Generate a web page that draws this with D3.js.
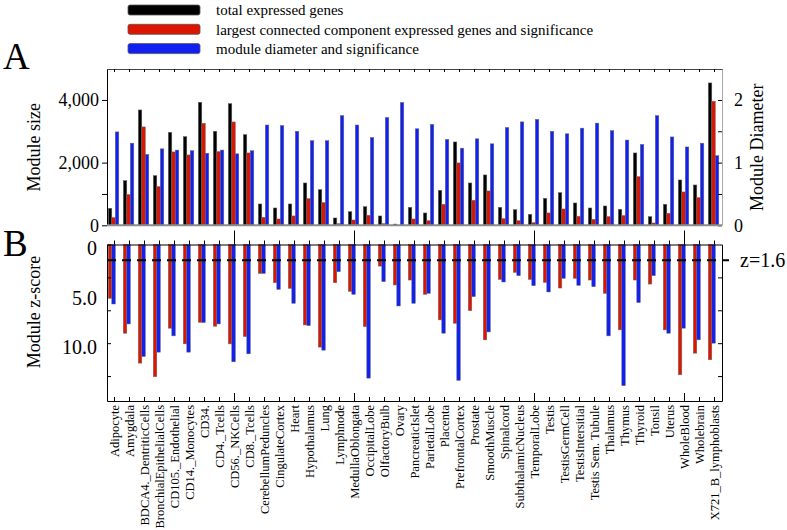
<!DOCTYPE html>
<html>
<head>
<meta charset="utf-8">
<script src="https://cdn.jsdelivr.net/npm/d3@7"></script>
<style>
  body { margin: 0; background: #fff; }
  text { font-family: 'Liberation Serif', 'Times New Roman', serif; fill: #000; }
</style>
</head>
<body>
<div id="chart"></div>
<script>
// tissues, in the order they appear on the x axis
let categories = ['Adipocyte', 'Amygdala', 'BDCA4._DentriticCells', 'BronchialEpithelialCells',
  'CD105._Endothelial', 'CD14._Monocytes', 'CD34.', 'CD4._Tcells', 'CD56._NKCells', 'CD8._Tcells',
  'CerebellumPeduncles', 'CingulateCortex', 'Heart', 'Hypothalamus', 'Lung', 'Lymphnode',
  'MedullaOblongata', 'OccipitalLobe', 'OlfactoryBulb', 'Ovary', 'PancreaticIslet', 'ParietalLobe',
  'Placenta', 'PrefrontalCortex', 'Prostate', 'SmoothMuscle', 'Spinalcord', 'SubthalamicNucleus',
  'TemporalLobe', 'Testis', 'TestisGermCell', 'TestisIntersitial', 'Testis Sem. Tubule', 'Thalamus',
  'Thymus', 'Thyroid', 'Tonsil', 'Uterus', 'WholeBlood', 'Wholebrain', 'X721_B_lymphoblasts']

// panel A
let totalGenes = [543, 1426, 3681, 1585, 2968, 2830, 3926, 3000, 3883, 2894, 681, 553, 681, 1351, 1138,
  234, 436, 596, 298, 40, 575, 394, 1117, 2660, 1351, 1607, 575, 500, 351, 862, 1043, 713, 553, 617,
  511, 2309, 277, 670, 1447, 1287, 4543]
let lccGenes = [245, 979, 3139, 1234, 2341, 2245, 3256, 2351, 3298, 2309, 255, 202, 298, 851, 724,
  53, 170, 319, 53, 0, 202, 149, 670, 1990, 798, 1096, 213, 149, 85, 394, 521, 287, 192, 277,
  309, 1553, 74, 383, 1064, 883, 3958]
let moduleDiameter = [1.49, 1.31, 1.13, 1.22, 1.20, 1.19, 1.15, 1.20, 1.14, 1.19, 1.60, 1.59, 1.50,
  1.35, 1.35, 1.75, 1.60, 1.40, 1.72, 1.96, 1.54, 1.61, 1.37, 1.23, 1.38, 1.30, 1.56, 1.65, 1.69,
  1.50, 1.46, 1.55, 1.63, 1.51, 1.36, 1.29, 1.75, 1.41, 1.25, 1.31, 1.11]

// panel B (z-scores, drawn downwards)
let lccZ = [5.45, 8.99, 12.02, 13.40, 8.48, 10.07, 7.88, 8.28, 10.07, 9.33, 2.93, 3.87, 4.44, 8.15,
  10.40, 3.87, 4.75, 8.32, 2.19, 4.10, 3.60, 5.05, 7.64, 7.98, 6.70, 9.66, 3.54, 2.83, 3.54, 3.84,
  4.41, 3.43, 3.60, 4.95, 8.65, 3.60, 4.01, 8.65, 13.20, 11.01, 11.68]
let diameterZ = [6.03, 8.05, 11.35, 10.91, 9.26, 10.91, 7.91, 8.05, 11.89, 11.08, 2.93, 4.55, 5.96,
  8.22, 10.71, 2.76, 5.05, 13.54, 3.77, 6.23, 5.96, 4.95, 8.99, 13.77, 5.29, 8.86, 3.80, 3.16, 4.18,
  4.81, 3.43, 4.14, 4.28, 9.26, 14.31, 5.89, 3.16, 8.99, 8.48, 9.66, 10.00]

let zThreshold = 1.6

let legendLabels = ['total expressed genes',
  'largest connected component expressed genes and significance',
  'module diameter and significance']

let majorTicks = ['CD56._NKCells', 'MedullaOblongata', 'TemporalLobe', 'WholeBlood']

let black = '#000000'
let red = '#dd1500'
let blue = '#1020f2'

let width = 787
let height = 530

let svg = d3
  .select('#chart')
  .append('svg')
  .attr('width', width)
  .attr('height', height)

let xPositionScale = d3.scaleBand().domain(categories).range([107, 722])

// bars inside one group
let innerA = d3.scaleBand().domain(['total', 'lcc', 'diam']).range([1.3, 11.8])
let innerB = d3.scaleBand().domain(['lcc', 'diam']).range([1.3, 8.3])

let yA = d3.scaleLinear().domain([0, 5000]).range([225.3, 68.6])
let yDiameter = d3.scaleLinear().domain([0, 2.5]).range([225.3, 68.6])
let yZ = d3.scaleLinear().domain([0, 15.86]).range([244.5, 401])

let rows = categories.map((c, i) => ({
  name: c,
  total: totalGenes[i],
  lcc: lccGenes[i],
  diam: moduleDiameter[i],
  lccZ: lccZ[i],
  diamZ: diameterZ[i]
}))

// ---------- legend ----------
let legend = svg.append('g')
legendLabels.forEach((label, i) => {
  legend.append('rect')
    .attr('x', 128).attr('y', 5 + i * 19.3)
    .attr('width', 72).attr('height', 10)
    .attr('rx', 2)
    .attr('fill', [black, red, blue][i])
    .attr('stroke', '#555').attr('stroke-width', 0.8)
  legend.append('text')
    .attr('x', 216).attr('y', 10 + i * 19.3)
    .attr('dy', '0.35em')
    .attr('font-size', 15)
    .text(label)
})

svg.append('text').attr('x', 3).attr('y', 69).attr('font-size', 37).text('A')
svg.append('text').attr('x', 3).attr('y', 256).attr('font-size', 37).text('B')

// ---------- panel A ----------
let panelA = svg.append('g')

let barStroke = g => g.attr('stroke', '#6a6a6a').attr('stroke-width', 0.5)

panelA.selectAll('.total')
  .data(rows)
  .enter()
  .append('rect')
  .attr('class', 'total')
  .attr('x', d => xPositionScale(d.name) + innerA('total'))
  .attr('width', innerA.bandwidth())
  .attr('y', d => yA(d.total))
  .attr('height', d => yA(0) - yA(d.total))
  .attr('fill', black)
  .call(barStroke)

panelA.selectAll('.lcc')
  .data(rows)
  .enter()
  .append('rect')
  .attr('class', 'lcc')
  .attr('x', d => xPositionScale(d.name) + innerA('lcc'))
  .attr('width', innerA.bandwidth())
  .attr('y', d => yA(d.lcc))
  .attr('height', d => yA(0) - yA(d.lcc))
  .attr('fill', red)
  .call(barStroke)

panelA.selectAll('.diam')
  .data(rows)
  .enter()
  .append('rect')
  .attr('class', 'diam')
  .attr('x', d => xPositionScale(d.name) + innerA('diam'))
  .attr('width', innerA.bandwidth())
  .attr('y', d => yDiameter(d.diam))
  .attr('height', d => yDiameter(0) - yDiameter(d.diam))
  .attr('fill', blue)
  .call(barStroke)

// left axis
let leftA = panelA.append('g')
  .attr('transform', 'translate(107,0)')
  .call(d3.axisLeft(yA)
    .tickValues([0, 1000, 2000, 4000])
    .tickFormat(d => (d === 1000 ? '' : d3.format(',')(d)))
    .tickSize(5)
    .tickSizeOuter(0)
    .tickPadding(3))
leftA.selectAll('text').attr('font-size', 18).attr('font-family', 'Liberation Serif')

// right axis (module diameter)
let rightA = panelA.append('g')
  .attr('transform', 'translate(722,0)')
  .call(d3.axisRight(yDiameter)
    .tickValues([0, 0.5, 1, 1.5, 2])
    .tickFormat(d => (d % 1 === 0 ? d : ''))
    .tickSize(-4)
    .tickSizeOuter(0)
    .tickPadding(12))
rightA.select('.domain').attr('stroke', '#aaa')
rightA.selectAll('text').attr('font-size', 18).attr('font-family', 'Liberation Serif')

// top frame with small ticks
let topA = panelA.append('g')
  .attr('transform', 'translate(0,69)')
  .call(d3.axisTop(xPositionScale).tickSize(-3).tickSizeOuter(0).tickFormat(''))
topA.select('.domain').attr('stroke', '#444')

// grey baseline
panelA.append('line')
  .attr('x1', 107).attr('x2', 722)
  .attr('y1', yA(0)).attr('y2', yA(0))
  .attr('stroke', '#8c8c8c').attr('stroke-width', 2)

svg.append('text')
  .attr('transform', `translate(40,${(yA(0) + 69) / 2}) rotate(-90)`)
  .attr('text-anchor', 'middle')
  .attr('font-size', 18)
  .text('Module size')

svg.append('text')
  .attr('transform', `translate(757,${(yA(0) + 69) / 2}) rotate(-90)`)
  .attr('text-anchor', 'middle')
  .attr('dy', '0.35em')
  .attr('font-size', 18)
  .text('Module Diameter')

// ---------- panel B ----------
let panelB = svg.append('g')

panelB.selectAll('.lccZ')
  .data(rows)
  .enter()
  .append('rect')
  .attr('class', 'lccZ')
  .attr('x', d => xPositionScale(d.name) + innerB('lcc'))
  .attr('width', innerB.bandwidth())
  .attr('y', yZ(0))
  .attr('height', d => yZ(d.lccZ) - yZ(0))
  .attr('fill', red)
  .call(barStroke)

panelB.selectAll('.diamZ')
  .data(rows)
  .enter()
  .append('rect')
  .attr('class', 'diamZ')
  .attr('x', d => xPositionScale(d.name) + innerB('diam'))
  .attr('width', innerB.bandwidth())
  .attr('y', yZ(0))
  .attr('height', d => yZ(d.diamZ) - yZ(0))
  .attr('fill', blue)
  .call(barStroke)

let zTicks = [0, 10 / 3, 20 / 3, 10, 40 / 3]

// left axis: ticks inside, labels on their own
panelB.append('g')
  .attr('transform', 'translate(107,0)')
  .call(d3.axisLeft(yZ).tickValues(zTicks).tickSize(-4).tickSizeOuter(0).tickFormat(''))

let zLabels = panelB.append('g')
  .attr('transform', 'translate(107,4)')
  .call(d3.axisLeft(yZ).tickValues([0, 5, 10]).tickSize(0).tickPadding(10)
    .tickFormat(d => (d === 0 ? '0' : d3.format('.1f')(d))))
zLabels.select('.domain').remove()
zLabels.selectAll('text').attr('font-size', 20).attr('font-family', 'Liberation Serif')

panelB.append('g')
  .attr('transform', 'translate(722,0)')
  .call(d3.axisRight(yZ).tickValues(zTicks.slice(1)).tickSize(-4).tickSizeOuter(0).tickFormat(''))

// top line, ticks pointing up
panelB.append('g')
  .attr('transform', `translate(0,${yZ(0)})`)
  .call(d3.axisTop(xPositionScale).tickSize(4).tickSizeOuter(0).tickFormat(''))

// bottom line, ticks pointing up
panelB.append('g')
  .attr('transform', `translate(0,${yZ.range()[1]})`)
  .call(d3.axisBottom(xPositionScale).tickSize(-4).tickSizeOuter(0).tickFormat(''))

// longer ticks every ten tissues
panelB.selectAll('.major-top')
  .data(majorTicks)
  .enter()
  .append('line')
  .attr('x1', d => xPositionScale(d) + xPositionScale.bandwidth() / 2)
  .attr('x2', d => xPositionScale(d) + xPositionScale.bandwidth() / 2)
  .attr('y1', yZ(0))
  .attr('y2', yZ(0) - 14)
  .attr('stroke', '#000')

panelB.selectAll('.major-bottom')
  .data(majorTicks)
  .enter()
  .append('line')
  .attr('x1', d => xPositionScale(d) + xPositionScale.bandwidth() / 2)
  .attr('x2', d => xPositionScale(d) + xPositionScale.bandwidth() / 2)
  .attr('y1', yZ.range()[1])
  .attr('y2', yZ.range()[1] - 8)
  .attr('stroke', '#000')

// threshold
panelB.append('line')
  .attr('x1', 107).attr('x2', 729)
  .attr('y1', yZ(zThreshold)).attr('y2', yZ(zThreshold))
  .attr('stroke', '#000')
  .attr('stroke-width', 2)
  .attr('stroke-dasharray', '9,6')

panelB.append('text')
  .attr('x', 740)
  .attr('y', yZ(zThreshold))
  .attr('dy', '0.35em')
  .attr('font-size', 20)
  .text('z=' + zThreshold)

svg.append('text')
  .attr('transform', `translate(40,312) rotate(-90)`)
  .attr('text-anchor', 'middle')
  .attr('font-size', 18)
  .text('Module z-score')

// tissue names
svg.append('g')
  .selectAll('.tissue')
  .data(categories)
  .enter()
  .append('text')
  .attr('class', 'tissue')
  .attr('transform', d => `translate(${xPositionScale(d) + xPositionScale.bandwidth() / 2},${yZ.range()[1] + 4}) rotate(-90)`)
  .attr('text-anchor', 'end')
  .attr('dy', '0.35em')
  .attr('font-size', 12.5)
  .text(d => d)
</script>
</body>
</html>
